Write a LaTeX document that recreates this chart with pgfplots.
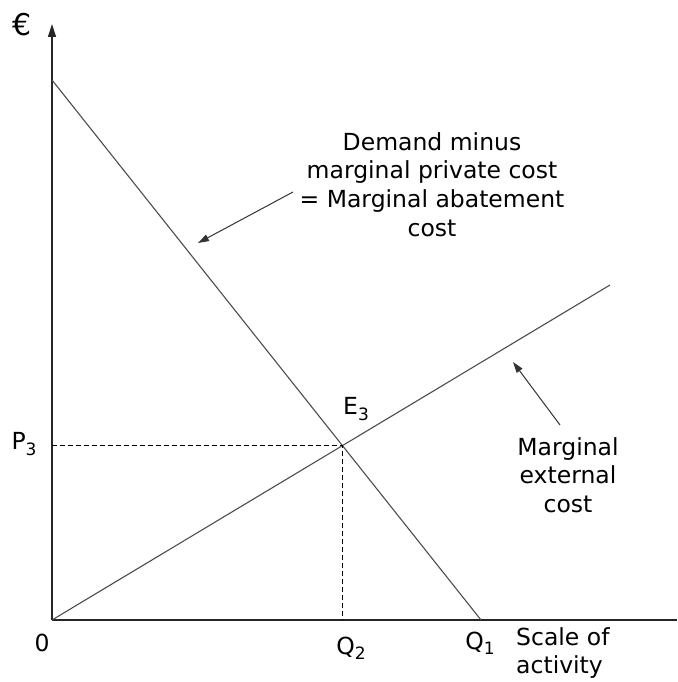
\documentclass[border=0pt]{standalone}
\usepackage{pgfplots}
\pgfplotsset{compat=1.18}
\usepackage{fontspec}
\setmainfont{DejaVu Sans}
\usetikzlibrary{arrows.meta}
\newcommand{\sub}[1]{\raisebox{-0.4ex}{\fontsize{17}{17}\selectfont #1}}
\begin{document}
\begin{tikzpicture}
\fontsize{23.5}{28.7}\selectfont
\begin{axis}[
  scale only axis, width=677pt, height=682pt,
  xmin=-52, xmax=625, ymin=-62, ymax=620,
  hide axis, clip=false,
]
% axes
\addplot[black!85, line width=1.3pt, -{Triangle[length=13pt,width=8pt]}] coordinates {(0,0) (0,596)};
\addplot[black!85, line width=1.3pt] coordinates {(0,0) (625,0)};
% demand minus MPC = MAC
\addplot[black!70, line width=1.1pt] coordinates {(0,540) (429,0)};
% marginal external cost
\addplot[black!70, line width=1.1pt] coordinates {(0,0) (558,335)};
% dashed guides
\addplot[black, line width=0.8pt, dash pattern=on 5pt off 3pt] coordinates {(0,174.4) (290.5,174.4) (290.5,0)};
% labels
\node at (axis cs:-30,595) {\fontsize{30}{30}\selectfont €};
\node at (axis cs:-28,176) {P\sub{3}};
\node at (axis cs:304,211) {E\sub{3}};
\node at (axis cs:-10,-23) {0};
\node at (axis cs:299,-28) {Q\sub{2}};
\node at (axis cs:428,-23) {Q\sub{1}};
\node[anchor=north west, align=left, inner sep=0pt] at (axis cs:464,-7) {\fontsize{23.5}{31}\selectfont Scale of\\activity};
\node[align=center, inner sep=0pt, anchor=north] at (axis cs:380,488) {Demand minus\\marginal private cost\\= Marginal abatement\\cost};
\node[align=center, inner sep=0pt, anchor=north] at (axis cs:516,183) {Marginal\\external\\cost};
% arrows
\addplot[black!80, line width=1pt, -{Triangle[length=11pt,width=7pt]}] coordinates {(241,428) (146,377)};
\addplot[black!80, line width=1pt, -{Triangle[length=11pt,width=7pt]}] coordinates {(508,195) (461,258)};
\end{axis}
\pgfresetboundingbox
\path (current axis.south west) rectangle (current axis.north east);
\end{tikzpicture}
\end{document}
